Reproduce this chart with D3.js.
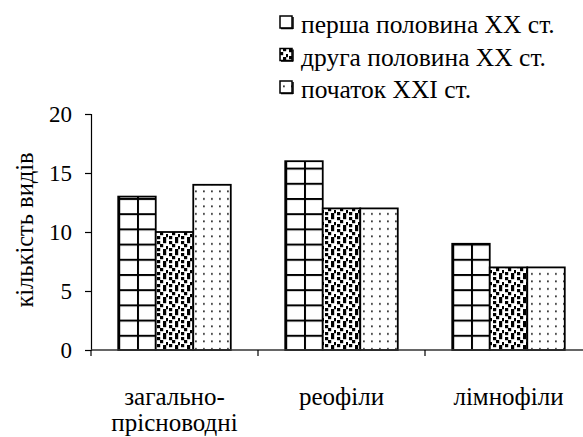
<!DOCTYPE html>
<html>
<head>
<meta charset="utf-8">
<script src="https://cdn.jsdelivr.net/npm/d3@7"></script>
<style>
  html, body { margin: 0; padding: 0; background: #fff; }
  svg { display: block; }
</style>
</head>
<body>
<svg id="chart" width="583" height="437"></svg>
<script>
// Species counts by ecological group and period
const categories = [["загально-", "прісноводні"], ["реофіли"], ["лімнофіли"]];
const seriesNames = ["перша половина XX ст.", "друга половина XX ст.", "початок XXI ст."];
const firstHalf20 = [13, 16, 9];
const secondHalf20 = [10, 12, 7];
const early21 = [14, 12, 7];
const yTicks = [0, 5, 10, 15, 20];
const yLabel = "кількість видів";

const seriesValues = [firstHalf20, secondHalf20, early21];
const catKeys = categories.map(c => c.join(" "));
const TICK_FS = 23;
const CAT_FS = 25;
const TITLE_FS = 24.5;
const LEGEND_FS = 25.5;

const svg = d3.select("#chart");
const defs = svg.append("defs");

const y = d3.scaleLinear().domain([0, 20]).range([350, 114]);
const x0 = d3.scaleBand().domain(catKeys).range([91, 592])
  .paddingInner(0.326).paddingOuter(0.163);
const x1 = d3.scaleBand().domain(d3.range(seriesNames.length)).range([0, x0.bandwidth()]);

// Pattern builders
function gridPattern(id, x0pos, w) {
  const p = defs.append("pattern").attr("id", id)
    .attr("patternUnits", "userSpaceOnUse")
    .attr("x", x0pos).attr("y", y(0))
    .attr("width", w).attr("height", 15.2);
  p.append("rect").attr("width", w).attr("height", 15.2).attr("fill", "#fff");
  p.append("rect").attr("x", 0).attr("y", 0).attr("width", 2).attr("height", 15.2).attr("fill", "#000");
  p.append("rect").attr("x", 0).attr("y", 0).attr("width", w).attr("height", 2).attr("fill", "#000");
}
function confettiPattern(id) {
  const p = defs.append("pattern").attr("id", id)
    .attr("patternUnits", "userSpaceOnUse").attr("width", 12).attr("height", 12);
  p.append("rect").attr("width", 12).attr("height", 12).attr("fill", "#fff");
  [[1, 1], [7, 0], [4, 4], [10, 6], [1, 8], [7, 9]].forEach(([a, b]) => {
    p.append("rect").attr("x", a).attr("y", b).attr("width", 3.2).attr("height", 3.2).attr("fill", "#000");
  });
}
function dotPattern(id) {
  const p = defs.append("pattern").attr("id", id)
    .attr("patternUnits", "userSpaceOnUse").attr("width", 8).attr("height", 7.5);
  p.append("rect").attr("width", 8).attr("height", 7.5).attr("fill", "#fff");
  p.append("rect").attr("x", 3).attr("y", 3).attr("width", 1.8).attr("height", 1.8).attr("fill", "#333");
}
confettiPattern("pat-confetti");
dotPattern("pat-dots");

// Bars
const g = svg.append("g");
catKeys.forEach((c, ci) => {
  seriesValues.forEach((vals, si) => {
    const bx = x0(c) + x1(si);
    const bw = x1.bandwidth();
    let fill;
    if (si === 0) {
      const id = "pat-grid-" + ci;
      gridPattern(id, bx, bw / 2);
      fill = `url(#${id})`;
    } else if (si === 1) {
      fill = "url(#pat-confetti)";
    } else {
      fill = "url(#pat-dots)";
    }
    g.append("rect")
      .attr("x", bx).attr("y", y(vals[ci]))
      .attr("width", bw).attr("height", y(0) - y(vals[ci]))
      .attr("fill", fill)
      .attr("stroke", "#000").attr("stroke-width", 1.8);
  });
});

// Serif text styling applied inline on each text element
function textStyle(sel, size) {
  return sel.attr("style", `font-family: "Times New Roman", "Liberation Serif"; font-size: ${size}px;`)
    .attr("fill", "#000");
}

// Y axis
const yAxis = svg.append("g").attr("transform", "translate(91,0)")
  .call(d3.axisLeft(y).tickValues(yTicks).tickSize(6).tickPadding(13));
yAxis.attr("font-family", null).attr("font-size", null);
yAxis.select(".domain").attr("stroke", "#000").attr("stroke-width", 1.2);
yAxis.selectAll(".tick line").attr("stroke", "#000").attr("stroke-width", 1.2);
textStyle(yAxis.selectAll(".tick text"), TICK_FS);

// X axis line with group boundary ticks
const xg = svg.append("g");
const [r0, r1] = x0.range();
xg.append("line").attr("x1", r0).attr("x2", r1).attr("y1", y(0)).attr("y2", y(0))
  .attr("stroke", "#333").attr("stroke-width", 1.5);
d3.range(catKeys.length + 1).forEach(i => {
  const bx = r0 + i * x0.step();
  xg.append("line").attr("x1", bx).attr("x2", bx).attr("y1", y(0)).attr("y2", y(0) + 6)
    .attr("stroke", "#000").attr("stroke-width", 1.2);
});

// Category labels
categories.forEach((lines, ci) => {
  const cx = x0(catKeys[ci]) + x0.bandwidth() / 2;
  const t = textStyle(svg.append("text").attr("x", cx).attr("y", 405).attr("text-anchor", "middle"), CAT_FS);
  lines.forEach((ln, li) => {
    t.append("tspan").attr("x", cx).attr("dy", li === 0 ? 0 : 26).text(ln);
  });
});

// Y axis title
textStyle(svg.append("text")
  .attr("transform", "translate(33,230) rotate(-90)")
  .attr("text-anchor", "middle"), TITLE_FS)
  .text(yLabel);

// Legend
const legendFills = ["#fff", "url(#pat-confetti)", "url(#pat-dots)"];
const lg = svg.append("g");
seriesNames.forEach((name, i) => {
  const by = 33 + i * 32.5;
  lg.append("rect").attr("x", 280).attr("y", by - 17).attr("width", 12).attr("height", 12)
    .attr("fill", legendFills[i]).attr("stroke", "#000").attr("stroke-width", 1.5);
  lg.append("line").attr("x1", 281).attr("x2", 293).attr("y1", by - 4.5).attr("y2", by - 4.5)
    .attr("stroke", "#000").attr("stroke-width", 1.5);
  lg.append("line").attr("x1", 293).attr("x2", 293).attr("y1", by - 16).attr("y2", by - 4)
    .attr("stroke", "#000").attr("stroke-width", 1.5);
  textStyle(lg.append("text").attr("x", 301).attr("y", by), LEGEND_FS).text(name);
});
</script>
</body>
</html>
